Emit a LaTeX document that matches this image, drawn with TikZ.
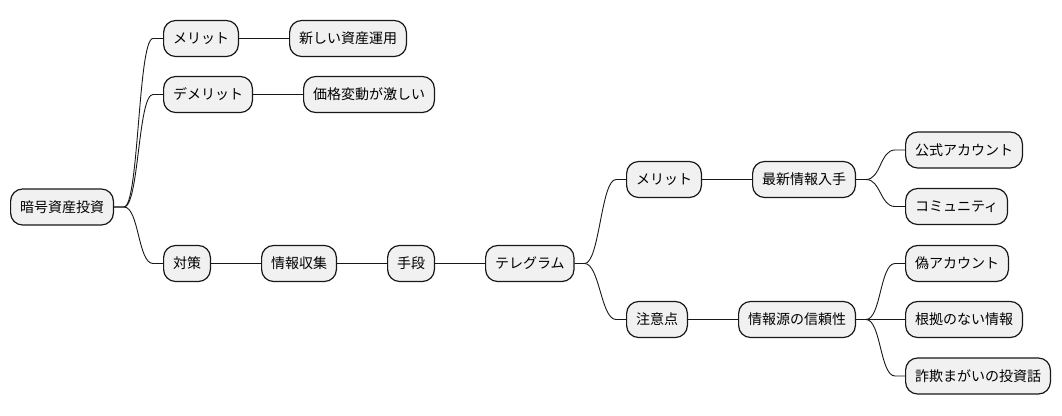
\documentclass[tikz,border=0pt]{standalone}
\usepackage{fontspec}
\usepackage{tikz}
\usetikzlibrary{positioning, calc}
\newfontfamily\jpfont{Noto Sans CJK JP}
\definecolor{Map_Fill}{HTML}{F1F1F1}
\definecolor{Map_Line}{HTML}{181818}

\begin{document}
\begin{tikzpicture}[x=1pt, y=-1pt,
    topic/.style={draw=Map_Line, fill=Map_Fill, line width=1.2pt, rounded corners=12pt,
        minimum height=36pt, inner xsep=9.4pt, inner ysep=0pt, anchor=west,
        font=\jpfont\fontsize{14}{16}\selectfont},
    branch/.style={draw=Map_Line, line width=0.9pt}]

    \useasboundingbox (0,0) rectangle (1062,415);

    % === root and its first level ===
    \node[topic] (root) at (10,207) {暗号資産投資};
    \node[topic] (merit) at (163,38.5) {メリット};
    \node[topic, right=50pt of merit] (newuse) {新しい資産運用};
    \node[topic] (demerit) at (163,94.5) {デメリット};
    \node[topic, right=50pt of demerit] (volatile) {価格変動が激しい};

    % === countermeasure chain ===
    \node[topic] (measure) at (163,263.5) {対策};
    \node[topic, right=50pt of measure] (gather) {情報収集};
    \node[topic, right=50pt of gather] (means) {手段};
    \node[topic, right=50pt of means] (telegram) {テレグラム};

    % === telegram: merit side ===
    \node[topic] (tmerit) at (626,179.5) {メリット};
    \node[topic, right=50pt of tmerit] (latest) {最新情報入手};
    \node[topic] (official) at (905,150) {公式アカウント};
    \node[topic] (community) at (905,206.5) {コミュニティ};

    % === telegram: caution side ===
    \node[topic] (caution) at (626,319.5) {注意点};
    \node[topic, right=50pt of caution] (trust) {情報源の信頼性};
    \node[topic] (fake) at (905,263.5) {偽アカウント};
    \node[topic] (baseless) at (905,319.5) {根拠のない情報};
    \node[topic] (scam) at (905,376) {詐欺まがいの投資話};

    % branches: short stub, S-curve, short stub
    \foreach \a/\b in {root/merit, root/demerit, root/measure, merit/newuse, demerit/volatile,
        measure/gather, gather/means, means/telegram, telegram/tmerit, telegram/caution,
        tmerit/latest, latest/official, latest/community, caution/trust,
        trust/fake, trust/baseless, trust/scam}
        \draw[branch] (\a.east) -- ++(10,0) .. controls +(15,0) and +(-15,0) .. ($(\b.west)+(-10,0)$) -- (\b.west);

\end{tikzpicture}
\end{document}
